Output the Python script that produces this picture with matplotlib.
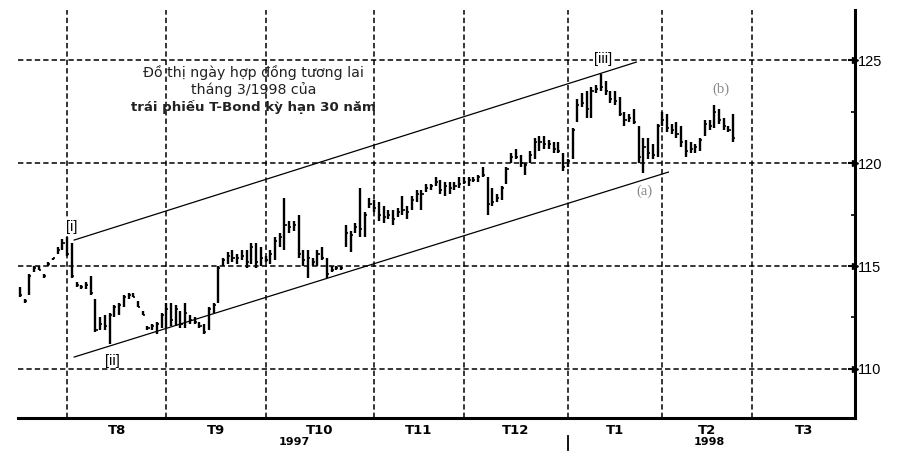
import numpy as np
import matplotlib.pyplot as plt
import matplotlib.transforms as mtransforms

# daily bars, trading-day index counted from 1 Aug 1997 (first bar is day -10)
FIRST_DAY = -10
highs = [114.0, 113.4, 114.6, 115.0, 115.0, 114.6, 115.2, 115.4, 115.9, 116.3,
         116.4, 116.1, 114.2, 114.1, 114.2, 114.5, 113.4, 112.5, 112.6, 112.7,
         113.1, 113.2, 113.6, 113.7, 113.7, 113.3, 112.8, 112.1, 112.2, 112.3,
         112.7, 113.2, 113.2, 113.1, 112.8, 113.2, 112.6, 112.5, 112.3, 112.2,
         113.0, 113.2, 115.0, 115.4, 115.7, 115.8, 115.6, 115.8, 115.8, 116.1,
         116.1, 115.9, 115.5, 115.8, 116.4, 116.6, 118.3, 117.2, 117.2, 117.5,
         115.8, 115.8, 115.4, 115.8, 115.9, 115.4, 115.0, 115.0, 115.0, 117.0,
         116.7, 117.1, 118.8, 117.6, 118.3, 118.2, 118.1, 117.9, 117.7, 117.7,
         117.8, 118.4, 117.9, 118.4, 118.7, 118.7, 119.0, 119.0, 119.3, 119.2,
         119.1, 119.1, 119.1, 119.3, 119.3, 119.3, 119.3, 119.4, 119.8, 119.3,
         118.8, 118.5, 118.9, 119.8, 120.5, 120.7, 120.4, 120.0, 120.6, 121.2,
         121.3, 121.3, 121.1, 121.0, 121.0, 120.5, 120.2, 121.7, 123.1, 123.4,
         123.5, 123.7, 123.8, 124.3, 124.0, 123.5, 123.5, 123.2, 122.5, 122.4,
         122.6, 121.8, 121.2, 121.2, 120.9, 121.9, 122.5, 122.4, 121.9, 122.0,
         121.8, 121.1, 121.0, 120.9, 121.2, 122.1, 122.1, 122.8, 122.6, 122.2,
         121.8, 122.4]
lows = [113.5, 113.2, 113.6, 114.7, 114.8, 114.4, 115.0, 115.3, 115.6, 115.8,
        115.5, 114.4, 114.0, 113.9, 113.9, 113.6, 111.8, 111.9, 111.9, 111.2,
        112.5, 112.6, 113.0, 113.4, 113.5, 113.0, 112.6, 111.9, 111.9, 111.7,
        112.0, 112.0, 112.1, 112.1, 112.0, 112.0, 112.2, 112.2, 112.0, 111.7,
        111.9, 112.7, 113.2, 115.0, 115.1, 115.2, 115.1, 115.3, 114.9, 115.1,
        114.9, 115.0, 115.2, 115.1, 115.3, 115.9, 115.8, 116.6, 116.7, 115.4,
        115.0, 114.4, 115.0, 115.0, 115.3, 114.4, 114.7, 114.8, 114.8, 115.9,
        115.7, 116.6, 116.4, 116.4, 117.8, 117.6, 117.2, 117.1, 117.3, 117.0,
        117.4, 117.5, 117.3, 117.7, 118.1, 117.7, 118.6, 118.7, 118.9, 118.5,
        118.4, 118.5, 118.7, 118.8, 119.0, 118.9, 119.1, 119.1, 119.3, 117.5,
        117.9, 118.1, 118.2, 119.0, 120.0, 120.2, 119.8, 119.4, 120.0, 120.2,
        120.6, 120.7, 120.7, 120.5, 120.5, 119.6, 119.8, 120.2, 122.0, 122.7,
        122.2, 122.2, 123.4, 123.5, 123.3, 122.9, 122.8, 122.3, 121.8, 122.0,
        121.9, 120.0, 119.5, 120.2, 120.2, 120.3, 121.8, 121.5, 121.4, 121.2,
        120.8, 120.3, 120.5, 120.5, 120.6, 121.3, 121.6, 121.7, 121.9, 121.6,
        121.5, 121.0]
closes = [113.6, 113.3, 114.5, 114.9, 114.8, 114.5, 115.1, 115.4, 115.8, 116.1,
          115.6, 114.5, 114.1, 114.0, 114.1, 113.7, 111.9, 112.2, 112.1, 112.6,
          113.0, 113.1, 113.5, 113.6, 113.5, 113.0, 112.6, 112.0, 112.1, 112.2,
          112.6, 112.9, 112.4, 112.9, 112.2, 112.7, 112.4, 112.3, 112.1, 111.8,
          112.9, 113.1, 114.9, 115.3, 115.5, 115.4, 115.4, 115.5, 115.2, 115.9,
          115.2, 115.4, 115.3, 115.6, 116.2, 116.4, 117.0, 116.9, 117.0, 115.6,
          115.3, 115.4, 115.2, 115.6, 115.4, 114.6, 114.8, 114.9, 114.9, 116.6,
          116.5, 116.9, 116.8, 117.5, 118.0, 117.8, 117.5, 117.4, 117.5, 117.3,
          117.6, 117.7, 117.6, 118.2, 118.5, 118.5, 118.8, 118.9, 119.1, 118.7,
          118.9, 118.8, 118.9, 119.0, 119.1, 119.2, 119.2, 119.3, 119.4, 118.0,
          118.1, 118.3, 118.8, 119.7, 120.3, 120.3, 120.0, 119.9, 120.4, 121.0,
          121.0, 120.9, 120.9, 120.7, 120.6, 119.8, 120.1, 121.6, 122.8, 122.9,
          122.6, 123.5, 123.6, 123.7, 123.5, 123.1, 123.0, 122.4, 122.1, 122.2,
          122.0, 120.3, 120.8, 120.5, 120.4, 121.8, 122.1, 121.7, 121.6, 121.4,
          121.0, 120.6, 120.7, 120.8, 121.1, 121.9, 121.8, 122.5, 122.1, 121.8,
          121.6, 121.2]

# month boundaries in trading days (1 Aug 1997 .. 1 Apr 1998)
month_starts = [0, 21, 42, 65, 84, 106, 126, 145, 167]
month_names = ["T8", "T9", "T10", "T11", "T12", "T1", "T2", "T3"]
year_labels = {"1997": 48, "1998": 136}   # trading day under which it sits
year_break = 106
price_levels = [110, 115, 120, 125]

# trend channel (day, price) end points
upper_channel = ([1.5, 120.5], [116.26, 124.9])
lower_channel = ([1.5, 127.3], [110.58, 119.56])

# wave labels: (text, day, price)
wave_labels = [("[i]", 1.0, 116.9), ("[ii]", 9.5, 110.4), ("[iii]", 113.5, 125.05)]
sub_labels = [("(a)", 122.3, 118.65), ("(b)", 138.5, 123.6)]

title_lines = ["Đồ thị ngày hợp đồng tương lai", "tháng 3/1998 của",
               "trái phiếu T-Bond kỳ hạn 30 năm"]

fig = plt.figure(figsize=(9.01, 4.51), dpi=100)
ax = fig.add_axes([18 / 901, 33 / 451, 837 / 901, 408 / 451])
ax.set_xlim(-10.4, 166.8)
ax.set_ylim(107.62, 127.43)

days = np.arange(FIRST_DAY, FIRST_DAY + len(highs))

# grid
grid_kw = dict(color="black", linewidth=1.1, linestyles=(0, (3.5, 2)), zorder=1)
ax.hlines(price_levels, -10.4, 166.8, **grid_kw)
ax.vlines(month_starts[:-1], 107.62, 127.43, **grid_kw)

# OHLC bars
ax.vlines(days, lows, highs, color="black", linewidth=1.7, zorder=3)
ax.hlines(closes, days, days + 0.45, color="black", linewidth=1.2, zorder=3)

# channel lines
ax.plot(*upper_channel, color="black", linewidth=0.9, zorder=2)
ax.plot(*lower_channel, color="black", linewidth=0.9, zorder=2)

for txt, d, p in wave_labels:
    ax.text(d, p, txt, fontsize=10.5, family="Liberation Sans", ha="center",
            va="center", color="black", zorder=4,
            bbox=dict(facecolor="white", edgecolor="none", pad=0.5))
for txt, d, p in sub_labels:
    ax.text(d, p, txt, fontsize=10.5, family="Liberation Serif", ha="center",
            va="center", color="#8a8a8a", zorder=4)

# title block
title_sizes = [10.2, 10.2, 9.6]
for i, line in enumerate(title_lines):
    ax.text(39.5, 124.4 - i * 0.85, line, fontsize=title_sizes[i], ha="center",
            va="center", family="DejaVu Sans",
            fontweight="bold" if i == 2 else "normal", color="#222222", zorder=4)

# spines
for s in ["left", "top"]:
    ax.spines[s].set_visible(False)
ax.spines["right"].set_linewidth(2.2)
ax.spines["bottom"].set_linewidth(2.2)

# y axis on the right
ax.yaxis.tick_right()
ax.set_yticks(price_levels)
ax.set_yticklabels([str(v) for v in price_levels], fontsize=10.5,
                   family="Liberation Sans")
ax.set_yticks([112.5, 117.5, 122.5], minor=True)
ax.tick_params(axis="y", which="major", length=5, width=1.5, direction="in", pad=2)
ax.tick_params(axis="y", which="minor", length=3, width=1.2, direction="in")
ax.plot([166.8] * len(price_levels), price_levels, marker=">", markersize=5,
        color="black", linestyle="none", clip_on=False, zorder=5)

# x axis: month names centred in each month
ax.set_xticks([])
trans = mtransforms.blended_transform_factory(ax.transData, ax.transAxes)
for i, name in enumerate(month_names):
    mid = (month_starts[i] + month_starts[i + 1]) / 2
    ax.text(mid, -0.03, name, transform=trans, ha="center", va="center",
            fontsize=9.5, fontweight="bold", family="DejaVu Sans")
for yr, d in year_labels.items():
    ax.text(d, -0.06, yr, transform=trans, ha="center", va="center",
            fontsize=8, fontweight="bold", family="DejaVu Sans")
ax.plot([year_break] * 2, [-0.045, -0.078], transform=trans, color="black",
        linewidth=1.3, clip_on=False)

fig.savefig("out.png", dpi=100)
